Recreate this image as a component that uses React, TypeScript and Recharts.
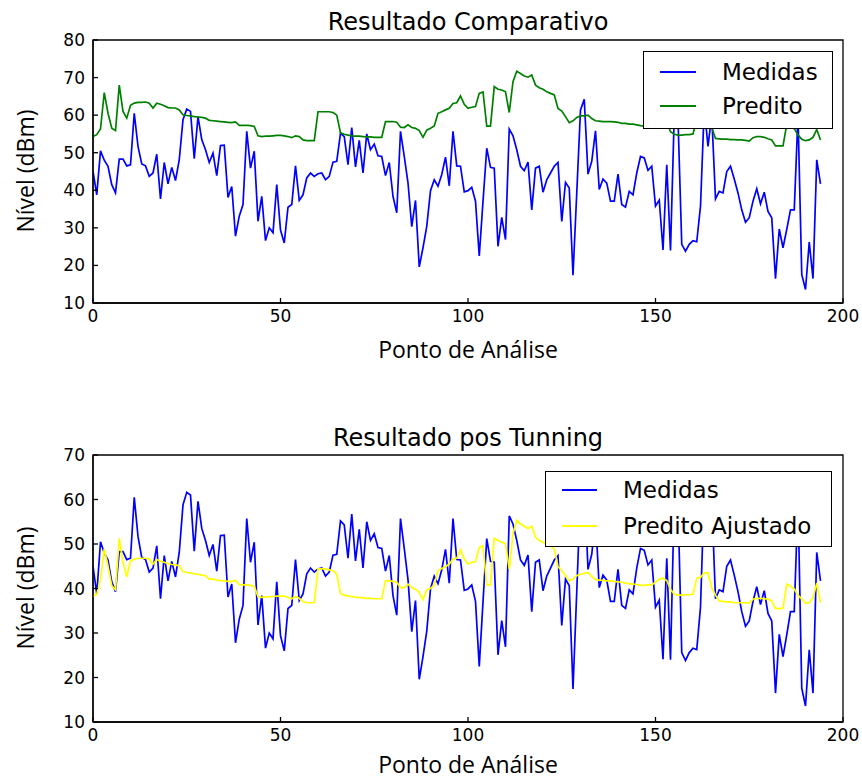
import React from 'react';
import { LineChart, Line, XAxis, YAxis, ReferenceArea } from 'recharts';

// valores lidos ponto a ponto (0..194)
const medidas = [
  45, 38.8, 50.5, 48, 46.4, 41.5, 39.3, 48.3, 48.3, 46.5,
  46.8, 60.5, 51.7, 47, 46.5, 43.7, 44.6, 49.6, 37.7, 47.4,
  41.7, 46.1, 42.6, 48.1, 58.8, 61.6, 61, 48.4, 59.6, 53.5,
  50.8, 47.4, 49.9, 43.9, 51.9, 52, 38.1, 41, 27.8, 33.1,
  36.2, 55.7, 45.9, 50.4, 31.8, 38.4, 26.6, 30, 28.7, 41.5,
  29.4, 26, 35.5, 36.2, 46.5, 37.3, 38.8, 43.3, 44.6, 43.7,
  44.4, 44.6, 42.8, 43.7, 47.5, 47.7, 55.2, 54.3, 46.8, 56.7,
  46.2, 53.3, 44.6, 55, 50.8, 52.3, 49.2, 49, 43.9, 47.4,
  38.4, 34, 55.7, 49, 42, 30.3, 37.3, 19.6, 24.7, 30.4,
  39.9, 42.8, 41.1, 44.2, 48.8, 41.2, 55.7, 46.5, 46.4, 39.6,
  39.9, 40.8, 37.1, 22.5, 37, 51.2, 46.1, 45.9, 25.1, 32.8,
  26.9, 56.3, 54.5, 50.8, 46.4, 45.2, 47.5, 34.8, 45.9, 46.4,
  39.5, 42.8, 44.6, 46.4, 47.4, 31.7, 42.1, 40.6, 17.4, 39.3,
  61.4, 64.2, 44.3, 47.7, 55.8, 40.2, 43, 41.9, 37.1, 37.1,
  44.3, 36.2, 35.5, 39.7, 38.8, 44.6, 49, 48.6, 45.3, 46.4,
  35.8, 37.4, 24.1, 46.8, 24, 60, 59, 25.6, 23.8, 25.6,
  26.6, 26.3, 35.8, 62, 51.7, 60, 37.7, 39.7, 39.3, 45,
  46.4, 43, 39.3, 34.8, 31.5, 32.7, 37.1, 40.4, 36.4, 39.5,
  34.4, 32.7, 16.5, 29.7, 24.7, 29.6, 34.8, 34.8, 60, 17.6,
  13.6, 26.2, 16.5, 48.1, 41.7,
];

const predito = [
  54.3, 54.8, 56.3, 66, 60.5, 56.5, 55.9, 68, 61, 59.2,
  62.6, 63.2, 63.4, 63.4, 63.5, 63.2, 61.9, 63.2, 62.9, 62.5,
  62, 61.9, 61.9, 61.4, 60.1, 59.9, 59.8, 59.6, 59.5, 59.4,
  59.2, 58.6, 58.5, 58.4, 58.3, 58.2, 58.1, 58, 58.2, 57.3,
  57.3, 57.3, 57.2, 57, 54.5, 54.3, 54.4, 54.4, 54.5, 54.6,
  54.6, 54.5, 54.3, 54, 54.5, 54.3, 53.4, 53.2, 53.2, 53.2,
  60.9, 60.9, 60.9, 60.9, 60.7, 60, 55.3, 54.9, 54.7, 54.5,
  54.4, 54.4, 54.3, 54.2, 54.2, 54.1, 54.1, 54.1, 58.3, 58.3,
  58.3, 58.1, 56.8, 56.7, 57.4, 56.7, 56.5, 55.9, 54.1, 56,
  56.5, 57.1, 60.5, 60.9, 61.4, 61.8, 63.1, 63.3, 65.1, 62.9,
  61.8, 62.1, 62.3, 65.8, 66.2, 57.1, 57.1, 67.6, 66.9, 66.7,
  66.2, 60.7, 68.9, 71.7, 71.1, 70.4, 70.1, 70.7, 68, 67.3,
  66.9, 66.2, 65.8, 65.4, 61.8, 61.1, 59.6, 58, 58.5, 59.4,
  59.8, 59.8, 60, 59.1, 58.5, 58.4, 58.3, 58.3, 58.3, 58.2,
  58.1, 57.8, 57.8, 57.6, 57.6, 57.4, 57.2, 57.1, 57.3, 57.3,
  57.9, 58.6, 58.8, 58.3, 55.6, 54.9, 54.7, 54.7, 54.8, 54.8,
  55, 58.8, 59, 60, 60, 56.7, 53.8, 53.7, 53.6, 53.6,
  53.5, 53.5, 53.4, 53.4, 53.3, 53.1, 54, 54.3, 54.3, 54.1,
  53.7, 53.4, 51.8, 51.8, 51.8, 57.5, 57, 56.4, 54.7, 53.6,
  53.2, 53.4, 54.1, 56.2, 53.4,
];

const preditoAjustado = [
  38.3, 38.7, 42, 48.9, 45.1, 40.6, 39.7, 51.3, 45.9, 42.6,
  46.2, 46.6, 46.8, 46.8, 46.8, 46.6, 45.5, 46.5, 46.1, 45.9,
  45.6, 45.4, 45.3, 45.1, 43.8, 43.6, 43.5, 43.3, 43.2, 43,
  42.9, 42.1, 42.1, 41.9, 41.8, 41.7, 41.6, 41.6, 41.8, 40.9,
  40.8, 40.8, 40.7, 40.5, 38.2, 38, 38.1, 38.1, 38.2, 38.3,
  38.3, 38.3, 38, 37.7, 38.2, 37.8, 37, 36.8, 36.8, 36.8,
  44.4, 44.4, 44.4, 44.2, 44, 43.2, 38.9, 38.5, 38.3, 38.2,
  38, 38, 37.9, 37.8, 37.8, 37.7, 37.7, 37.7, 41.7, 41.7,
  41.6, 41.4, 40.2, 40.2, 41, 40.2, 39.8, 39.2, 37.5, 39.7,
  40, 40.8, 44, 44.5, 44.9, 45.5, 46.6, 46.8, 48.7, 46.6,
  45.5, 45.9, 46, 49.2, 49.6, 40.8, 40.8, 51.3, 50.8, 50.4,
  50.1, 44.4, 52.3, 55.3, 54.5, 54, 53.5, 54, 51.5, 50.8,
  50.4, 49.9, 49.6, 48.9, 44.9, 44, 42.9, 41.7, 42.1, 42.9,
  43.2, 43.4, 43.6, 42.7, 42, 41.9, 41.8, 41.7, 41.7, 41.6,
  41.5, 41.4, 41.2, 41.1, 41, 40.9, 40.7, 40.7, 40.8, 40.8,
  41.4, 42.1, 42.3, 41.8, 39.8, 38.7, 38.5, 38.5, 38.6, 38.6,
  38.7, 42.3, 42.5, 43.5, 43.5, 40.2, 38.5, 37.2, 37.1, 37,
  37, 36.8, 36.8, 36.8, 36.8, 36.7, 37.6, 37.8, 37.8, 37.7,
  37.6, 37.2, 35.5, 35.5, 35.6, 41, 40.5, 39.9, 38.5, 37.6,
  36.7, 36.8, 37.9, 41.2, 36.8,
];

const xTicks = [0, 50, 100, 150, 200];
const yTicksTop = [10, 20, 30, 40, 50, 60, 70, 80];
const yTicksBottom = [10, 20, 30, 40, 50, 60, 70];

const data = medidas.map((v, i) => ({
  ponto: i,
  medidas: v,
  predito: predito[i],
  ajustado: preditoAjustado[i],
}));

const tickStyle = { fill: '#000', fontSize: 17, fontFamily: 'DejaVu Sans' };
const axisLine = { stroke: '#000', strokeWidth: 1.3 };

interface Serie {
  key: string;
  name: string;
  color: string;
}

interface PainelProps {
  top: number;
  height: number;
  marginTop: number;
  bottomAxis: number;
  yDomain: [number, number];
  yTicks: number[];
  series: Serie[];
}

const Painel: React.FC<PainelProps> = ({ top, height, marginTop, bottomAxis, yDomain, yTicks, series }) => (
  <div style={{ position: 'absolute', left: 0, top }}>
    <LineChart
      width={862}
      height={height}
      data={data}
      margin={{ top: marginTop, right: 19, bottom: 0, left: 0 }}
    >
      <XAxis
        xAxisId="b"
        dataKey="ponto"
        type="number"
        domain={[0, 200]}
        ticks={xTicks}
        height={bottomAxis}
        tick={tickStyle}
        axisLine={axisLine}
        tickLine={axisLine}
        tickSize={-5}
        tickMargin={12}
        allowDataOverflow
      />
      <XAxis
        xAxisId="t"
        orientation="top"
        dataKey="ponto"
        type="number"
        domain={[0, 200]}
        ticks={xTicks}
        height={0}
        tick={false}
        axisLine={axisLine}
        tickLine={axisLine}
        tickSize={-5}
        allowDataOverflow
      />
      <YAxis
        yAxisId="l"
        type="number"
        domain={yDomain}
        ticks={yTicks}
        width={93}
        tick={tickStyle}
        axisLine={axisLine}
        tickLine={axisLine}
        tickSize={-5}
        tickMargin={13}
        allowDataOverflow
      />
      <YAxis
        yAxisId="r"
        orientation="right"
        type="number"
        domain={yDomain}
        ticks={yTicks}
        width={0}
        tick={false}
        axisLine={axisLine}
        tickLine={axisLine}
        tickSize={-5}
        allowDataOverflow
      />
      {/* moldura completa do gráfico */}
      <ReferenceArea
        xAxisId="b"
        yAxisId="l"
        x1={0}
        x2={200}
        y1={yDomain[0]}
        y2={yDomain[1]}
        fill="none"
        stroke="#000"
        strokeWidth={1.3}
        ifOverflow="visible"
      />
      {series.map((s) => (
        <Line
          key={s.key}
          xAxisId="b"
          yAxisId="l"
          type="linear"
          dataKey={s.key}
          name={s.name}
          stroke={s.color}
          strokeWidth={1.7}
          dot={false}
          isAnimationActive={false}
        />
      ))}
    </LineChart>
  </div>
);

interface LegendaProps {
  left: number;
  top: number;
  width: number;
  height: number;
  lineLeft: number;
  lineWidth: number;
  textLeft: number;
  rows: number[];
  series: Serie[];
}

const Legenda: React.FC<LegendaProps> = ({ left, top, width, height, lineLeft, lineWidth, textLeft, rows, series }) => (
  <div
    style={{
      position: 'absolute',
      left,
      top,
      width,
      height,
      border: '1.5px solid #000',
      background: '#fff',
      boxSizing: 'border-box',
    }}
  >
    {series.map((s, i) => (
      <React.Fragment key={s.key}>
        <div
          style={{
            position: 'absolute',
            left: lineLeft,
            top: rows[i] - 1,
            width: lineWidth,
            height: 2,
            background: s.color,
          }}
        />
        <div
          style={{
            position: 'absolute',
            left: textLeft,
            top: rows[i] - 13,
            height: 26,
            lineHeight: '26px',
            fontFamily: 'DejaVu Sans',
            fontSize: 23,
            color: '#000',
            whiteSpace: 'nowrap',
          }}
        >
          {s.name}
        </div>
      </React.Fragment>
    ))}
  </div>
);

const Titulo: React.FC<{ top: number; text: string }> = ({ top, text }) => (
  <div
    style={{
      position: 'absolute',
      left: 93,
      width: 750,
      top,
      textAlign: 'center',
      fontFamily: 'DejaVu Sans',
      fontSize: 24,
      lineHeight: 1,
      color: '#000',
    }}
  >
    {text}
  </div>
);

const RotuloX: React.FC<{ top: number }> = ({ top }) => (
  <div
    style={{
      position: 'absolute',
      left: 93,
      width: 750,
      top,
      textAlign: 'center',
      fontFamily: 'Open Sans',
      fontSize: 23,
      lineHeight: 1,
      color: '#000',
    }}
  >
    Ponto de Análise
  </div>
);

const RotuloY: React.FC<{ cy: number }> = ({ cy }) => (
  <div
    style={{
      position: 'absolute',
      left: 25 - 100,
      top: cy - 15,
      width: 200,
      height: 30,
      lineHeight: '30px',
      textAlign: 'center',
      fontFamily: 'Open Sans',
      fontSize: 23,
      color: '#000',
      transform: 'rotate(-90deg)',
    }}
  >
    Nível (dBm)
  </div>
);

const seriesTopo: Serie[] = [
  { key: 'medidas', name: 'Medidas', color: '#0000ff' },
  { key: 'predito', name: 'Predito', color: '#008000' },
];

const seriesBaixo: Serie[] = [
  { key: 'medidas', name: 'Medidas', color: '#0000ff' },
  { key: 'ajustado', name: 'Predito Ajustado', color: '#ffff00' },
];

export default function App() {
  return (
    <div style={{ position: 'absolute', left: 0, top: 0, width: 862, height: 779, background: '#fff', overflow: 'hidden' }}>
      <Painel top={0} height={390} marginTop={40} bottomAxis={87} yDomain={[10, 80]} yTicks={yTicksTop} series={seriesTopo} />
      <Painel top={390} height={389} marginTop={65} bottomAxis={57} yDomain={[10, 70]} yTicks={yTicksBottom} series={seriesBaixo} />
      <Titulo top={10} text="Resultado Comparativo" />
      <Titulo top={426} text="Resultado pos Tunning" />
      <RotuloX top={338} />
      <RotuloX top={753} />
      <RotuloY cy={171} />
      <RotuloY cy={588} />
      <Legenda left={643} top={51} width={190} height={78} lineLeft={16} lineWidth={36} textLeft={78} rows={[20, 54]} series={seriesTopo} />
      <Legenda left={545} top={471} width={287} height={76} lineLeft={16} lineWidth={35} textLeft={77} rows={[18, 54]} series={seriesBaixo} />
    </div>
  );
}
